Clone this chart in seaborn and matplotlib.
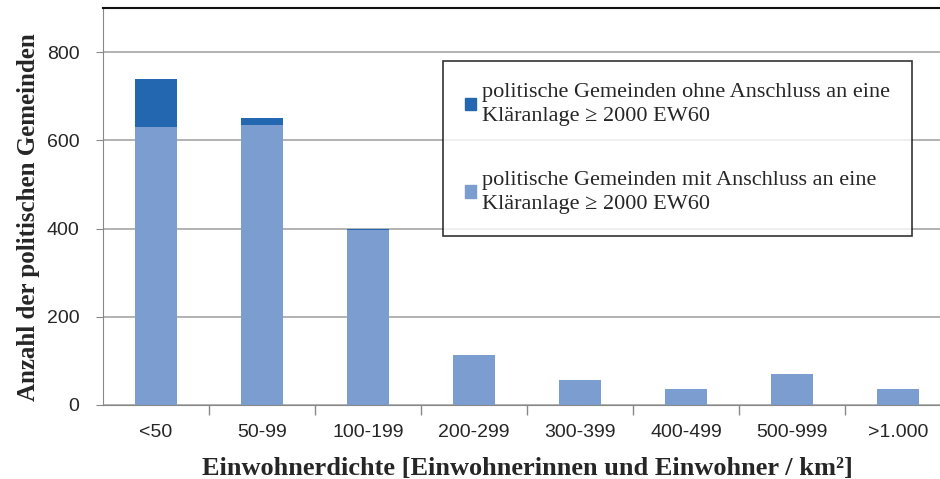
import pandas as pd
import numpy as np
import seaborn as sns
import matplotlib.pyplot as plt
from matplotlib.patches import Patch

categories = ["<50", "50-99", "100-199", "200-299", "300-399", "400-499", "500-999", ">1.000"]
mit_anschluss = [630, 635, 397, 113, 57, 36, 70, 36]
ohne_anschluss = [108, 15, 3, 0, 0, 0, 0, 0]

df = pd.DataFrame({"kat": categories, "mit": mit_anschluss, "ohne": ohne_anschluss})
df["total"] = df["mit"] + df["ohne"]

dark = "#2467b1"
light = "#7b9dd0"

sns.set_style("white")
plt.rcParams["font.family"] = ["Liberation Serif", "DejaVu Serif"]

fig = plt.figure(figsize=(9.4, 4.79), dpi=100)
ax = fig.add_axes([0.1096, 0.1545, 0.902, 0.829])

sns.barplot(data=df, x="kat", y="total", color=dark, width=0.39, saturation=1,
            linewidth=0, ax=ax)
sns.barplot(data=df, x="kat", y="mit", color=light, width=0.39, saturation=1,
            linewidth=0, ax=ax)

ax.set_ylim(0, 900)
ax.set_xlim(-0.5, 7.5)
ax.set_yticks([0, 200, 400, 600, 800])
ax.yaxis.grid(True, color="#a6a6a6", linewidth=1.2)
ax.set_axisbelow(True)

for lab in ax.get_xticklabels() + ax.get_yticklabels():
    lab.set_family(["Liberation Sans Narrow", "Liberation Sans"])
    lab.set_fontsize(14)
    lab.set_color("#262626")

ax.tick_params(axis="x", which="major", length=0, pad=14)
ax.set_xticks(np.arange(0.5, 7.5, 1), minor=True)
ax.tick_params(axis="x", which="minor", length=7, color="#888888", width=1, direction="out", bottom=True)
ax.tick_params(axis="y", length=5, color="#888888", left=True, pad=12)

ax.spines["right"].set_visible(False)
ax.spines["left"].set_color("#888888")
ax.spines["bottom"].set_color("#888888")
ax.spines["top"].set_color("#111111")
ax.spines["top"].set_linewidth(1.5)

ax.set_xlabel("Einwohnerdichte [Einwohnerinnen und Einwohner / km²]",
              fontsize=19, fontweight="bold", labelpad=11)
ax.set_ylabel("Anzahl der politischen Gemeinden", fontsize=18, fontweight="bold")
ax.yaxis.set_label_coords(-0.074, 0.474)

handles = [Patch(color=dark), Patch(color=light)]
labels = ["politische Gemeinden ohne Anschluss an eine\nKläranlage ≥ 2000 EW60",
          "politische Gemeinden mit Anschluss an eine\nKläranlage ≥ 2000 EW60"]
leg = ax.legend(handles, labels, loc="upper left", bbox_to_anchor=(0.401, 0.866),
                fontsize=16, frameon=True, fancybox=False, edgecolor="black",
                handlelength=0.5, handleheight=0.5, handletextpad=0.25,
                labelspacing=2.0, borderpad=1.0, borderaxespad=0)
leg.get_frame().set_linewidth(1.2)
for t in leg.get_texts():
    t.set_linespacing(1.35)

plt.savefig("out.png", dpi=100)
